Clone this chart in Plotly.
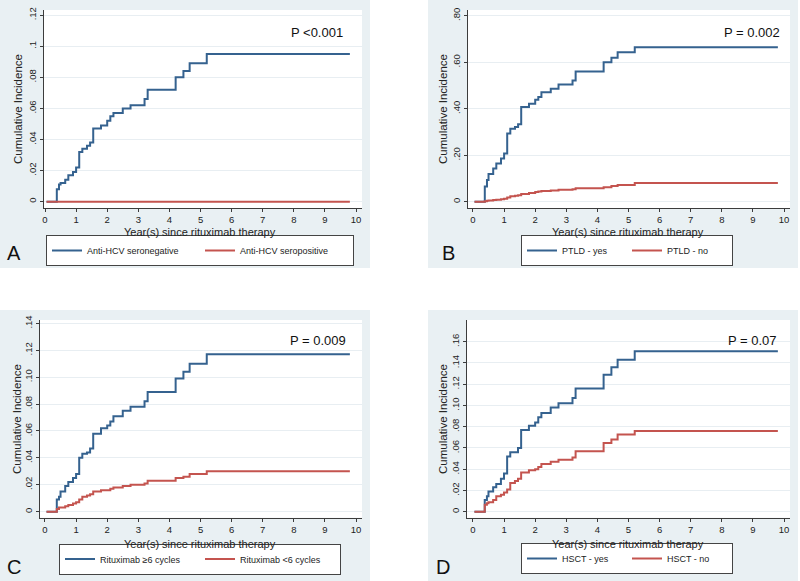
import plotly.graph_objects as go

# event times (years since rituximab therapy) shared by all curves
years = [0.05, 0.38, 0.45, 0.5, 0.65, 0.75, 0.9, 1.0, 1.1, 1.2, 1.35, 1.45, 1.55,
         1.8, 2.0, 2.1, 2.2, 2.5, 2.75, 3.2, 3.3, 4.2, 4.45, 4.65, 5.2, 9.8]

# panel A
hcv_neg = [0, 0.008, 0.011, 0.012, 0.014, 0.017, 0.019, 0.022, 0.032, 0.034, 0.036, 0.038, 0.047,
           0.049, 0.052, 0.055, 0.057, 0.060, 0.062, 0.066, 0.072, 0.080, 0.084, 0.089, 0.095, 0.095]
hcv_pos = [0, 0, 0, 0, 0, 0, 0, 0, 0, 0, 0, 0, 0,
           0, 0, 0, 0, 0, 0, 0, 0, 0, 0, 0, 0, 0]

# panel B
ptld_yes = [0, 0.065, 0.093, 0.119, 0.143, 0.164, 0.186, 0.207, 0.293, 0.314, 0.321, 0.333, 0.407,
            0.421, 0.439, 0.450, 0.471, 0.486, 0.504, 0.521, 0.560, 0.600, 0.619, 0.643, 0.664, 0.664]
ptld_no = [0, 0.002, 0.004, 0.005, 0.007, 0.008, 0.011, 0.013, 0.018, 0.024, 0.026, 0.028, 0.033,
           0.038, 0.042, 0.044, 0.046, 0.048, 0.052, 0.054, 0.058, 0.062, 0.068, 0.072, 0.081, 0.081]

# panel C
ritux_ge6 = [0, 0.009, 0.011, 0.015, 0.019, 0.022, 0.025, 0.028, 0.040, 0.043, 0.044, 0.047, 0.058,
             0.062, 0.064, 0.067, 0.071, 0.075, 0.078, 0.082, 0.089, 0.099, 0.104, 0.110, 0.117, 0.117]
ritux_lt6 = [0, 0.002, 0.003, 0.003, 0.004, 0.005, 0.006, 0.007, 0.009, 0.011, 0.012, 0.013, 0.015,
             0.016, 0.016, 0.017, 0.018, 0.019, 0.020, 0.021, 0.023, 0.025, 0.026, 0.028, 0.030, 0.030]

# panel D
hsct_yes = [0, 0.011, 0.0145, 0.019, 0.023, 0.026, 0.031, 0.036, 0.052, 0.056, 0.056, 0.060, 0.077,
            0.081, 0.084, 0.089, 0.093, 0.098, 0.102, 0.107, 0.116, 0.129, 0.136, 0.143, 0.151, 0.151]
hsct_no = [0, 0.0065, 0.008, 0.009, 0.011, 0.0145, 0.016, 0.018, 0.021, 0.027, 0.029, 0.031, 0.037,
           0.039, 0.040, 0.042, 0.045, 0.047, 0.049, 0.051, 0.057, 0.0646, 0.068, 0.0727, 0.076, 0.076]

x_ticks = [0, 1, 2, 3, 4, 5, 6, 7, 8, 9, 10]
y_ticks_a = [0, 0.02, 0.04, 0.06, 0.08, 0.10, 0.12]
y_text_a = ["0", ".02", ".04", ".06", ".08", ".1", ".12"]
y_ticks_b = [0, 0.2, 0.4, 0.6, 0.8]
y_text_b = ["0", ".20", ".40", ".60", ".80"]
y_ticks_c = [0, 0.02, 0.04, 0.06, 0.08, 0.10, 0.12, 0.14]
y_text_c = ["0", ".02", ".04", ".06", ".08", ".10", ".12", ".14"]
y_ticks_d = [0, 0.02, 0.04, 0.06, 0.08, 0.10, 0.12, 0.14, 0.16]
y_text_d = ["0", ".02", ".04", ".06", ".08", ".10", ".12", ".14", ".16"]

BLUE = "#35628f"
RED = "#c4544f"
PANEL_BG = "#e9f0f3"
FONT = "Liberation Sans, Arial, sans-serif"
W, H = 800, 581


def px_x(v):
    return v / W


def px_y(v):
    return 1 - v / H


panels = [
    dict(letter="A", s1=hcv_neg, s2=hcv_pos, n1="Anti-HCV seronegative", n2="Anti-HCV seropositive",
         p="P <0.001", yt=y_ticks_a, ytt=y_text_a, xd=(44, 362), yd=(10, 208),
         xr=[-0.032, 10.19], yr=[-0.0041, 0.1233], box=(0, 0, 370, 268),
         leg=(200, 250.5), ew=108, letter_pos=(14, 253), p_pos=(317, 32),
         xt_pos=(200, 232.5), yt_pos=(18, 109)),
    dict(letter="B", s1=ptld_yes, s2=ptld_no, n1="PTLD - yes", n2="PTLD - no",
         p="P = 0.002", yt=y_ticks_b, ytt=y_text_b, xd=(468, 790), yd=(10, 208),
         xr=[-0.16, 10.19], yr=[-0.027, 0.8245], box=(428, 0, 798, 268),
         leg=(627, 250.5), ew=60, letter_pos=(448, 253), p_pos=(752, 32),
         xt_pos=(628, 232.5), yt_pos=(443, 109)),
    dict(letter="C", s1=ritux_ge6, s2=ritux_lt6, n1="Rituximab ≥6 cycles", n2="Rituximab <6 cycles",
         p="P = 0.009", yt=y_ticks_c, ytt=y_text_c, xd=(40, 362), yd=(320, 517.7),
         xr=[-0.16, 10.19], yr=[-0.0045, 0.1425], box=(0, 310, 370, 581),
         leg=(200, 559), ew=95, letter_pos=(14, 567), p_pos=(318, 340),
         xt_pos=(200, 544), yt_pos=(17, 419)),
    dict(letter="D", s1=hsct_yes, s2=hsct_no, n1="HSCT - yes", n2="HSCT - no",
         p="P = 0.07", yt=y_ticks_d, ytt=y_text_d, xd=(467, 790), yd=(320, 517.7),
         xr=[-0.19, 10.19], yr=[-0.0056, 0.1804], box=(428, 310, 798, 581),
         leg=(627, 558.5), ew=60, letter_pos=(443, 567), p_pos=(752, 340),
         xt_pos=(628, 544), yt_pos=(443, 419)),
]

fig = go.Figure()
shapes = []
annotations = []
layout = {}


def label(text, pos, size, angle=0, color="#222"):
    return dict(text=text, x=px_x(pos[0]), y=px_y(pos[1]), xref="paper", yref="paper",
                xanchor="center", yanchor="middle", showarrow=False, textangle=angle,
                font=dict(family=FONT, size=size, color=color))


for i, p in enumerate(panels):
    n = i + 1
    sfx = "" if n == 1 else str(n)
    xa, ya = "x" + sfx, "y" + sfx
    leg = "legend" + sfx

    fig.add_trace(go.Scatter(x=years, y=p["s1"], mode="lines", line=dict(color=BLUE, width=2, shape="hv"),
                             name=p["n1"], xaxis=xa, yaxis=ya, legend=leg))
    fig.add_trace(go.Scatter(x=years, y=p["s2"], mode="lines", line=dict(color=RED, width=2, shape="hv"),
                             name=p["n2"], xaxis=xa, yaxis=ya, legend=leg))

    axis_common = dict(showline=True, linecolor="#3c3c3c", linewidth=1, ticks="outside", ticklen=3,
                       tickcolor="#3c3c3c", zeroline=False, automargin=False,
                       tickfont=dict(family=FONT, size=9.5, color="#222"))
    layout["xaxis" + sfx] = dict(axis_common, domain=[px_x(p["xd"][0]), px_x(p["xd"][1])], range=p["xr"],
                                 anchor=ya, tickvals=x_ticks, showgrid=False, ticklabelstandoff=0)
    layout["yaxis" + sfx] = dict(axis_common, domain=[px_y(p["yd"][1]), px_y(p["yd"][0])], range=p["yr"],
                                 anchor=xa, tickvals=p["yt"], ticktext=p["ytt"], tickangle=-90,
                                 showgrid=True, gridcolor="#e8eef2", gridwidth=1)
    layout[leg] = dict(orientation="h", x=px_x(p["leg"][0]), y=px_y(p["leg"][1]), xanchor="center",
                       yanchor="middle", bgcolor="white", bordercolor="#444", borderwidth=1,
                       entrywidth=p["ew"], font=dict(family=FONT, size=9, color="#222"))

    b = p["box"]
    shapes.append(dict(type="rect", xref="paper", yref="paper", x0=px_x(b[0]), x1=px_x(b[2]),
                       y0=px_y(b[3]), y1=px_y(b[1]), fillcolor=PANEL_BG, line_width=0, layer="below"))
    shapes.append(dict(type="rect", xref=xa + " domain", yref=ya + " domain", x0=0, x1=1, y0=0, y1=1,
                       fillcolor="white", line_width=0, layer="below"))

    annotations.append(label(p["p"], p["p_pos"], 13, color="#111"))
    annotations.append(label(p["letter"], p["letter_pos"], 20, color="#111"))
    annotations.append(label("Year(s) since rituximab therapy", p["xt_pos"], 11))
    annotations.append(label("Cumulative Incidence", p["yt_pos"], 11.5, angle=-90))

fig.update_layout(
    width=W, height=H,
    margin=dict(l=0, r=0, t=0, b=0, autoexpand=False),
    paper_bgcolor="white",
    plot_bgcolor="white",
    font=dict(family=FONT),
    shapes=shapes,
    annotations=annotations,
    **layout,
)

# the page body has a default 8px margin; drop it so the figure sits at the window corner
fig.write_html("out.html", config={"displayModeBar": False},
               post_script="document.body.style.margin='0px';")
